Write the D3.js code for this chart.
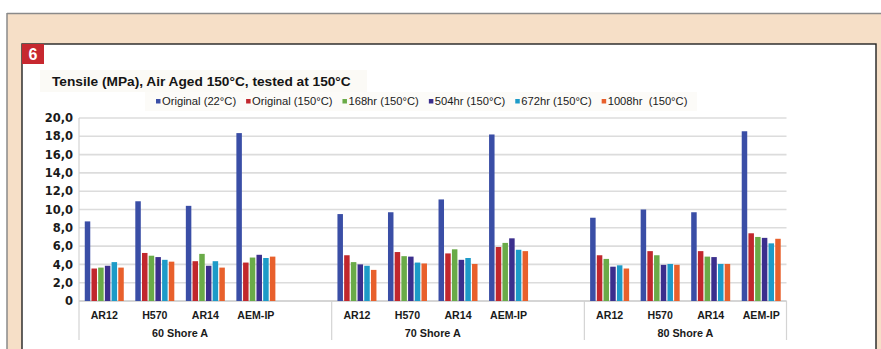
<!DOCTYPE html>
<html>
<head>
<meta charset="utf-8">
<script src="https://cdn.jsdelivr.net/npm/d3@7"></script>
<style>
  html, body { margin: 0; padding: 0; background: #fff; }
  svg { display: block; }
</style>
</head>
<body>
<svg id="chart" width="881" height="349"></svg>
<script>
// Shore hardness groups and the compounds tested in each
const groups = ["60 Shore A", "70 Shore A", "80 Shore A"];
const compounds = ["AR12", "H570", "AR14", "AEM-IP"];

// Ageing conditions (legend order)
const seriesNames = ["Original (22°C)", "Original (150°C)", "168hr (150°C)", "504hr (150°C)", "672hr (150°C)", "1008hr  (150°C)"];
const seriesColors = ["#3a4ea6", "#c1272d", "#6aab48", "#3b2f8d", "#1d9bc8", "#e8602c"];

// Tensile strength, MPa: 60 Shore A (AR12, H570, AR14, AEM-IP), then 70, then 80
const original22  = [8.7, 10.9, 10.4, 18.35,  9.5, 9.7, 11.1, 18.2,  9.1, 10.0, 9.7, 18.55];
const original150 = [3.55, 5.25, 4.35, 4.2,   5.0, 5.35, 5.2, 5.9,   5.0, 5.45, 5.45, 7.4];
const hr168       = [3.65, 4.95, 5.15, 4.75,  4.25, 4.9, 5.65, 6.35, 4.6, 5.0, 4.85, 7.0];
const hr504       = [3.85, 4.8, 3.85, 5.05,   4.0, 4.85, 4.5, 6.85,  3.75, 3.95, 4.8, 6.9];
const hr672       = [4.25, 4.5, 4.35, 4.7,    3.85, 4.2, 4.7, 5.6,   3.9, 4.05, 4.05, 6.3];
const hr1008      = [3.65, 4.3, 3.65, 4.85,   3.4, 4.1, 4.05, 5.45,  3.55, 3.95, 4.05, 6.8];
const seriesValues = [original22, original150, hr168, hr504, hr672, hr1008];

// Value axis ticks
const yTicks = [0, 2, 4, 6, 8, 10, 12, 14, 16, 18, 20];
const yTickLabels = ["0", "2,0", "4,0", "6,0", "8,0", "10,0", "12,0", "14,0", "16,0", "18,0", "20,0"];

const titleText = "Tensile (MPa), Air Aged 150°C, tested at 150°C";
const figureNumber = "6";

const svg = d3.select("#chart");

// ---- Page frame: peach panel with a white inset
svg.append("rect").attr("x", 7).attr("y", 14).attr("width", 880).attr("height", 340).attr("fill", "#f6dfc7");
svg.append("line").attr("x1", 7).attr("x2", 881).attr("y1", 13.5).attr("y2", 13.5).attr("stroke", "#8a8a8a").attr("stroke-width", 1.5);
svg.append("line").attr("x1", 7).attr("x2", 7).attr("y1", 13).attr("y2", 349).attr("stroke", "#8a8a8a").attr("stroke-width", 1.5);
svg.append("rect").attr("x", 22).attr("y", 44).attr("width", 854).attr("height", 320)
  .attr("fill", "#fff").attr("stroke", "#222").attr("stroke-width", 1.4);

// Figure number badge
svg.append("rect").attr("x", 22).attr("y", 44).attr("width", 22).attr("height", 20).attr("fill", "#c7282f");
svg.append("text").attr("x", 33).attr("y", 60).attr("text-anchor", "middle")
  .attr("font-family", "Liberation Sans, Arial, sans-serif").attr("font-weight", "bold")
  .attr("font-size", 16).attr("fill", "#fff").text(figureNumber);

// Title
svg.append("rect").attr("x", 40).attr("y", 70).attr("width", 327).attr("height", 22).attr("fill", "#fbfaf6");
svg.append("text").attr("x", 52).attr("y", 86)
  .attr("font-family", "Liberation Sans, Arial, sans-serif").attr("font-weight", "bold")
  .attr("font-size", 13.7).attr("fill", "#151515").text(titleText);

// ---- Scales
const plotLeft = 79, plotRight = 786.5, plotTop = 118, plotBottom = 301;

// 14 category slots: each group has its compounds, with an empty slot between groups
const slots = [];
groups.forEach((g, gi) => {
  compounds.forEach((c, ci) => slots.push({ key: g + "|" + c, group: g, compound: c, index: gi * compounds.length + ci }));
  if (gi < groups.length - 1) slots.push({ key: g + "|gap", group: g, compound: null, index: -1 });
});

const x0 = d3.scaleBand().domain(slots.map(s => s.key)).range([plotLeft, plotRight]).paddingInner(0).paddingOuter(0);
const inset = (x0.bandwidth() - 39) / 2;
const x1 = d3.scaleBand().domain(seriesNames).range([inset, inset + 39]).paddingInner(0.18).paddingOuter(0);
const y = d3.scaleLinear().domain([0, 20]).range([plotBottom, plotTop]);

// ---- Gridlines
svg.append("g").selectAll("line").data(yTicks).join("line")
  .attr("x1", plotLeft).attr("x2", plotRight)
  .attr("y1", d => y(d)).attr("y2", d => y(d))
  .attr("stroke", "#dcdcdc").attr("stroke-width", 1.6);

// Y axis labels
const yAxis = d3.axisLeft(y).tickValues(yTicks).tickSize(0).tickPadding(0)
  .tickFormat((d, i) => yTickLabels[i]);
const yg = svg.append("g").attr("transform", `translate(${plotLeft - 6},0)`).call(yAxis);
yg.select(".domain").remove();
yg.selectAll("text")
  .attr("font-family", "DejaVu Sans, sans-serif").attr("font-weight", "bold")
  .attr("font-size", 11.5).attr("fill", "#1a1a1a");

// Value axis line and category separators
svg.append("line").attr("x1", plotLeft).attr("x2", plotLeft).attr("y1", plotTop).attr("y2", 340)
  .attr("stroke", "#d4d4d4").attr("stroke-width", 1.2);
const groupEdges = groups.map(g => {
  const keys = slots.filter(s => s.group === g).map(s => s.key);
  return { group: g, start: x0(keys[0]), end: x0(keys[keys.length - 1]) + x0.bandwidth(),
           labelEnd: x0(keys.filter(k => !k.endsWith("|gap")).slice(-1)[0]) + x0.bandwidth() };
});
svg.append("g").selectAll("line").data(groupEdges).join("line")
  .attr("x1", d => d.end).attr("x2", d => d.end).attr("y1", plotBottom).attr("y2", 340)
  .attr("stroke", "#d4d4d4").attr("stroke-width", 1.2);
svg.append("line").attr("x1", plotLeft).attr("x2", plotRight).attr("y1", plotBottom).attr("y2", plotBottom)
  .attr("stroke", "#cfcfcf").attr("stroke-width", 1.4);

// ---- Bars
const barData = [];
slots.filter(s => s.compound).forEach(s => {
  seriesNames.forEach((name, si) => {
    barData.push({ key: s.key, series: name, color: seriesColors[si], value: seriesValues[si][s.index] });
  });
});
svg.append("g").selectAll("rect").data(barData).join("rect")
  .attr("x", d => x0(d.key) + x1(d.series))
  .attr("width", x1.bandwidth())
  .attr("y", d => y(d.value))
  .attr("height", d => y(0) - y(d.value))
  .attr("fill", d => d.color);

// ---- Category labels
svg.append("g").selectAll("text").data(slots.filter(s => s.compound)).join("text")
  .attr("x", d => x0(d.key) + x0.bandwidth() / 2).attr("y", 319)
  .attr("text-anchor", "middle")
  .attr("font-family", "Liberation Sans, Arial, sans-serif").attr("font-weight", "bold")
  .attr("font-size", 10.6).attr("fill", "#1a1a1a").text(d => d.compound);

svg.append("g").selectAll("text").data(groupEdges).join("text")
  .attr("x", d => (d.start + d.labelEnd) / 2).attr("y", 337)
  .attr("text-anchor", "middle")
  .attr("font-family", "Liberation Sans, Arial, sans-serif").attr("font-weight", "bold")
  .attr("font-size", 10.8).attr("fill", "#1a1a1a").text(d => d.group);

// ---- Legend
svg.append("rect").attr("x", 145).attr("y", 92).attr("width", 552).attr("height", 19).attr("fill", "#fcfbf8");
const legend = svg.append("g");
let lx = 156;
seriesNames.forEach((name, i) => {
  legend.append("rect").attr("x", lx).attr("y", 99).attr("width", 4.5).attr("height", 4.5).attr("fill", seriesColors[i]);
  const t = legend.append("text").attr("x", lx + 6).attr("y", 104.5)
    .attr("font-family", "Liberation Sans, Arial, sans-serif")
    .attr("font-size", 11.2).attr("fill", "#1a1a1a")
    .style("white-space", "pre").attr("xml:space", "preserve").text(name);
  lx += 6 + t.node().getComputedTextLength() + 10;
});
</script>
</body>
</html>
